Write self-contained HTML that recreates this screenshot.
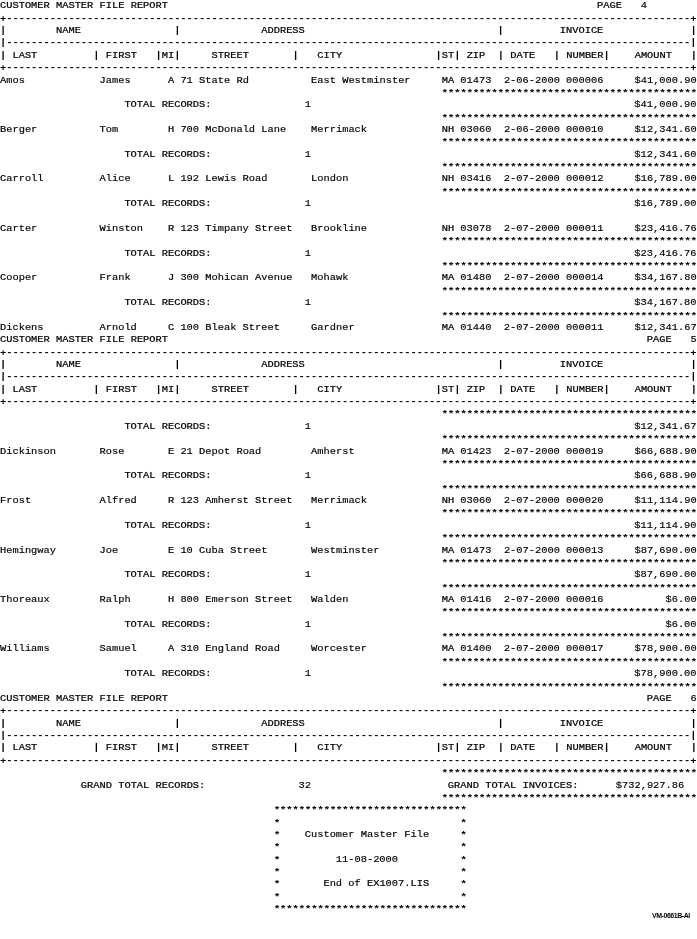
<!DOCTYPE html>
<html><head><meta charset="utf-8"><title>Customer Master File Report</title>
<style>
html,body{margin:0;padding:0;background:#fff;}
body{width:697px;height:939px;position:relative;overflow:hidden;}
#r{position:absolute;left:0;top:0;width:612px;height:939px;transform:scaleX(1.13957);transform-origin:0 0;will-change:transform;font-family:"Liberation Mono",monospace;font-size:9.1px;line-height:12px;color:#000;font-weight:normal;}
.l{position:absolute;left:0;white-space:pre;-webkit-text-stroke:0.15px #000;}
span.u{font-weight:normal;-webkit-text-stroke:0.22px #000;}
span.k{font-weight:bold;-webkit-text-stroke:0;}
span.p{font-weight:bold;-webkit-text-stroke:0;position:relative;top:1px;}
span.s{font-weight:bold;font-size:9.8px;letter-spacing:-0.4201px;position:relative;top:1.0px;-webkit-text-stroke:0;}
.lbl{position:absolute;left:652px;top:912px;font-family:"Liberation Sans",sans-serif;font-size:7px;font-weight:bold;line-height:8px;color:#000;letter-spacing:-0.45px;}
</style></head><body>
<div id="r">
<div class="l" style="top:0px"><span class="u">CUSTOMER</span> <span class="u">MASTER</span> <span class="u">FILE</span> <span class="u">REPORT</span>                                                                     <span class="u">PAGE</span>   4</div>
<div class="l" style="top:13px"><span class="p">+</span><span class="k">--------------------------------------------------------------------------------------------------------------</span><span class="p">+</span></div>
<div class="l" style="top:25px"><span class="k">|</span>        <span class="u">NAME</span>               <span class="k">|</span>             <span class="u">ADDRESS</span>                               <span class="k">|</span>         <span class="u">INVOICE</span>              <span class="k">|</span></div>
<div class="l" style="top:37px"><span class="k">|</span><span class="k">--------------------------------------------------------------------------------------------------------------</span><span class="k">|</span></div>
<div class="l" style="top:50px"><span class="k">|</span> <span class="u">LAST</span>         <span class="k">|</span> <span class="u">FIRST</span>   <span class="k">|</span><span class="u">MI</span><span class="k">|</span>     <span class="u">STREET</span>       <span class="k">|</span>   <span class="u">CITY</span>               <span class="k">|</span><span class="u">ST</span><span class="k">|</span> <span class="u">ZIP</span>  <span class="k">|</span> <span class="u">DATE</span>   <span class="k">|</span> <span class="u">NUMBER</span><span class="k">|</span>    <span class="u">AMOUNT</span>   <span class="k">|</span></div>
<div class="l" style="top:62px"><span class="p">+</span><span class="k">--------------------------------------------------------------------------------------------------------------</span><span class="p">+</span></div>
<div class="l" style="top:75px"><span class="u">A</span>mos            <span class="u">J</span>ames      <span class="u">A</span> 71 <span class="u">S</span>tate <span class="u">R</span>d          <span class="u">E</span>ast <span class="u">W</span>estminster     <span class="u">MA</span> 01473  2-06-2000 000006     $41,000.90</div>
<div class="l" style="top:87px">                                                                       <span class="s">*****************************************</span></div>
<div class="l" style="top:99px">                    <span class="u">TOTAL</span> <span class="u">RECORDS</span>:               1                                                    $41,000.90</div>
<div class="l" style="top:112px">                                                                       <span class="s">*****************************************</span></div>
<div class="l" style="top:124px"><span class="u">B</span>erger          <span class="u">T</span>om        <span class="u">H</span> 700 <span class="u">M</span>c<span class="u">D</span>onald <span class="u">L</span>ane    <span class="u">M</span>errimack            <span class="u">NH</span> 03060  2-06-2000 000010     $12,341.60</div>
<div class="l" style="top:136px">                                                                       <span class="s">*****************************************</span></div>
<div class="l" style="top:149px">                    <span class="u">TOTAL</span> <span class="u">RECORDS</span>:               1                                                    $12,341.60</div>
<div class="l" style="top:161px">                                                                       <span class="s">*****************************************</span></div>
<div class="l" style="top:173px"><span class="u">C</span>arroll         <span class="u">A</span>lice      <span class="u">L</span> 192 <span class="u">L</span>ewis <span class="u">R</span>oad       <span class="u">L</span>ondon               <span class="u">NH</span> 03416  2-07-2000 000012     $16,789.00</div>
<div class="l" style="top:186px">                                                                       <span class="s">*****************************************</span></div>
<div class="l" style="top:198px">                    <span class="u">TOTAL</span> <span class="u">RECORDS</span>:               1                                                    $16,789.00</div>
<div class="l" style="top:223px"><span class="u">C</span>arter          <span class="u">W</span>inston    <span class="u">R</span> 123 <span class="u">T</span>impany <span class="u">S</span>treet   <span class="u">B</span>rookline            <span class="u">NH</span> 03078  2-07-2000 000011     $23,416.76</div>
<div class="l" style="top:235px">                                                                       <span class="s">*****************************************</span></div>
<div class="l" style="top:248px">                    <span class="u">TOTAL</span> <span class="u">RECORDS</span>:               1                                                    $23,416.76</div>
<div class="l" style="top:260px">                                                                       <span class="s">*****************************************</span></div>
<div class="l" style="top:272px"><span class="u">C</span>ooper          <span class="u">F</span>rank      <span class="u">J</span> 300 <span class="u">M</span>ohican <span class="u">A</span>venue   <span class="u">M</span>ohawk               <span class="u">MA</span> 01480  2-07-2000 000014     $34,167.80</div>
<div class="l" style="top:285px">                                                                       <span class="s">*****************************************</span></div>
<div class="l" style="top:297px">                    <span class="u">TOTAL</span> <span class="u">RECORDS</span>:               1                                                    $34,167.80</div>
<div class="l" style="top:310px">                                                                       <span class="s">*****************************************</span></div>
<div class="l" style="top:322px"><span class="u">D</span>ickens         <span class="u">A</span>rnold     <span class="u">C</span> 100 <span class="u">B</span>leak <span class="u">S</span>treet     <span class="u">G</span>ardner              <span class="u">MA</span> 01440  2-07-2000 000011     $12,341.67</div>
<div class="l" style="top:334px"><span class="u">CUSTOMER</span> <span class="u">MASTER</span> <span class="u">FILE</span> <span class="u">REPORT</span>                                                                             <span class="u">PAGE</span>   5</div>
<div class="l" style="top:347px"><span class="p">+</span><span class="k">--------------------------------------------------------------------------------------------------------------</span><span class="p">+</span></div>
<div class="l" style="top:359px"><span class="k">|</span>        <span class="u">NAME</span>               <span class="k">|</span>             <span class="u">ADDRESS</span>                               <span class="k">|</span>         <span class="u">INVOICE</span>              <span class="k">|</span></div>
<div class="l" style="top:371px"><span class="k">|</span><span class="k">--------------------------------------------------------------------------------------------------------------</span><span class="k">|</span></div>
<div class="l" style="top:384px"><span class="k">|</span> <span class="u">LAST</span>         <span class="k">|</span> <span class="u">FIRST</span>   <span class="k">|</span><span class="u">MI</span><span class="k">|</span>     <span class="u">STREET</span>       <span class="k">|</span>   <span class="u">CITY</span>               <span class="k">|</span><span class="u">ST</span><span class="k">|</span> <span class="u">ZIP</span>  <span class="k">|</span> <span class="u">DATE</span>   <span class="k">|</span> <span class="u">NUMBER</span><span class="k">|</span>    <span class="u">AMOUNT</span>   <span class="k">|</span></div>
<div class="l" style="top:396px"><span class="p">+</span><span class="k">--------------------------------------------------------------------------------------------------------------</span><span class="p">+</span></div>
<div class="l" style="top:408px">                                                                       <span class="s">*****************************************</span></div>
<div class="l" style="top:421px">                    <span class="u">TOTAL</span> <span class="u">RECORDS</span>:               1                                                    $12,341.67</div>
<div class="l" style="top:433px">                                                                       <span class="s">*****************************************</span></div>
<div class="l" style="top:446px"><span class="u">D</span>ickinson       <span class="u">R</span>ose       <span class="u">E</span> 21 <span class="u">D</span>epot <span class="u">R</span>oad        <span class="u">A</span>mherst              <span class="u">MA</span> 01423  2-07-2000 000019     $66,688.90</div>
<div class="l" style="top:458px">                                                                       <span class="s">*****************************************</span></div>
<div class="l" style="top:470px">                    <span class="u">TOTAL</span> <span class="u">RECORDS</span>:               1                                                    $66,688.90</div>
<div class="l" style="top:483px">                                                                       <span class="s">*****************************************</span></div>
<div class="l" style="top:495px"><span class="u">F</span>rost           <span class="u">A</span>lfred     <span class="u">R</span> 123 <span class="u">A</span>mherst <span class="u">S</span>treet   <span class="u">M</span>errimack            <span class="u">NH</span> 03060  2-07-2000 000020     $11,114.90</div>
<div class="l" style="top:507px">                                                                       <span class="s">*****************************************</span></div>
<div class="l" style="top:520px">                    <span class="u">TOTAL</span> <span class="u">RECORDS</span>:               1                                                    $11,114.90</div>
<div class="l" style="top:532px">                                                                       <span class="s">*****************************************</span></div>
<div class="l" style="top:545px"><span class="u">H</span>emingway       <span class="u">J</span>oe        <span class="u">E</span> 10 <span class="u">C</span>uba <span class="u">S</span>treet       <span class="u">W</span>estminster          <span class="u">MA</span> 01473  2-07-2000 000013     $87,690.00</div>
<div class="l" style="top:557px">                                                                       <span class="s">*****************************************</span></div>
<div class="l" style="top:569px">                    <span class="u">TOTAL</span> <span class="u">RECORDS</span>:               1                                                    $87,690.00</div>
<div class="l" style="top:582px">                                                                       <span class="s">*****************************************</span></div>
<div class="l" style="top:594px"><span class="u">T</span>horeaux        <span class="u">R</span>alph      <span class="u">H</span> 800 <span class="u">E</span>merson <span class="u">S</span>treet   <span class="u">W</span>alden               <span class="u">MA</span> 01416  2-07-2000 000016          $6.00</div>
<div class="l" style="top:606px">                                                                       <span class="s">*****************************************</span></div>
<div class="l" style="top:619px">                    <span class="u">TOTAL</span> <span class="u">RECORDS</span>:               1                                                         $6.00</div>
<div class="l" style="top:631px">                                                                       <span class="s">*****************************************</span></div>
<div class="l" style="top:643px"><span class="u">W</span>illiams        <span class="u">S</span>amuel     <span class="u">A</span> 310 <span class="u">E</span>ngland <span class="u">R</span>oad     <span class="u">W</span>orcester            <span class="u">MA</span> 01400  2-07-2000 000017     $78,900.00</div>
<div class="l" style="top:656px">                                                                       <span class="s">*****************************************</span></div>
<div class="l" style="top:668px">                    <span class="u">TOTAL</span> <span class="u">RECORDS</span>:               1                                                    $78,900.00</div>
<div class="l" style="top:681px">                                                                       <span class="s">*****************************************</span></div>
<div class="l" style="top:693px"><span class="u">CUSTOMER</span> <span class="u">MASTER</span> <span class="u">FILE</span> <span class="u">REPORT</span>                                                                             <span class="u">PAGE</span>   6</div>
<div class="l" style="top:705px"><span class="p">+</span><span class="k">--------------------------------------------------------------------------------------------------------------</span><span class="p">+</span></div>
<div class="l" style="top:718px"><span class="k">|</span>        <span class="u">NAME</span>               <span class="k">|</span>             <span class="u">ADDRESS</span>                               <span class="k">|</span>         <span class="u">INVOICE</span>              <span class="k">|</span></div>
<div class="l" style="top:730px"><span class="k">|</span><span class="k">--------------------------------------------------------------------------------------------------------------</span><span class="k">|</span></div>
<div class="l" style="top:742px"><span class="k">|</span> <span class="u">LAST</span>         <span class="k">|</span> <span class="u">FIRST</span>   <span class="k">|</span><span class="u">MI</span><span class="k">|</span>     <span class="u">STREET</span>       <span class="k">|</span>   <span class="u">CITY</span>               <span class="k">|</span><span class="u">ST</span><span class="k">|</span> <span class="u">ZIP</span>  <span class="k">|</span> <span class="u">DATE</span>   <span class="k">|</span> <span class="u">NUMBER</span><span class="k">|</span>    <span class="u">AMOUNT</span>   <span class="k">|</span></div>
<div class="l" style="top:755px"><span class="p">+</span><span class="k">--------------------------------------------------------------------------------------------------------------</span><span class="p">+</span></div>
<div class="l" style="top:767px">                                                                       <span class="s">*****************************************</span></div>
<div class="l" style="top:780px">             <span class="u">GRAND</span> <span class="u">TOTAL</span> <span class="u">RECORDS</span>:               32                      <span class="u">GRAND</span> <span class="u">TOTAL</span> <span class="u">INVOICES</span>:      $732,927.86</div>
<div class="l" style="top:792px">                                                                       <span class="s">*****************************************</span></div>
<div class="l" style="top:804px">                                            <span class="s">*******************************</span></div>
<div class="l" style="top:817px">                                            <span class="s">*</span>                             <span class="s">*</span></div>
<div class="l" style="top:829px">                                            <span class="s">*</span>    <span class="u">C</span>ustomer <span class="u">M</span>aster <span class="u">F</span>ile     <span class="s">*</span></div>
<div class="l" style="top:841px">                                            <span class="s">*</span>                             <span class="s">*</span></div>
<div class="l" style="top:854px">                                            <span class="s">*</span>         11-08-2000          <span class="s">*</span></div>
<div class="l" style="top:866px">                                            <span class="s">*</span>                             <span class="s">*</span></div>
<div class="l" style="top:878px">                                            <span class="s">*</span>       <span class="u">E</span>nd of <span class="u">EX</span>1007.<span class="u">LIS</span>     <span class="s">*</span></div>
<div class="l" style="top:891px">                                            <span class="s">*</span>                             <span class="s">*</span></div>
<div class="l" style="top:903px">                                            <span class="s">*******************************</span></div>
</div>
<div class="lbl">VM-0661B-AI</div>
</body></html>
